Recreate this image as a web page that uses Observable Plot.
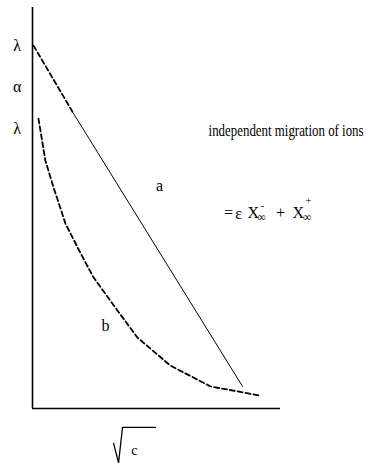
<!DOCTYPE html>
<html>
<head>
<meta charset="utf-8">
<script src="https://cdn.jsdelivr.net/npm/d3@7"></script>
<script src="https://cdn.jsdelivr.net/npm/@observablehq/plot@0.6"></script>
<style>
  html, body { margin: 0; padding: 0; background: #fff; }
  svg { display: block; }
</style>
</head>
<body>
<div id="chart"></div>
<script>
// Molar conductivity against √c: strong electrolyte (a) is linear,
// weak electrolyte (b) falls steeply near zero concentration.
const sqrtC_a = [0.04, 1.65, 8.47];
const lambda_a = [9.05, 7.36, 0.55];

const sqrtC_b = [0.24, 0.52, 0.85, 1.33, 1.94, 2.46, 3.43, 4.23, 5.56, 7.18, 9.19];
const lambda_b = [7.23, 6.18, 5.51, 4.61, 3.87, 3.27, 2.44, 1.77, 1.07, 0.55, 0.32];

const axisSymbols = ["λ", "α", "λ"];
const axisSymbolY = [9.05, 8.03, 6.98];

const noteText = "independent migration of ions";

const a = sqrtC_a.map((x, i) => ({x, y: lambda_a[i]}));
const aDashed = a.slice(0, 2);   // extrapolation to c → 0
const aSolid = a.slice(1);
const b = sqrtC_b.map((x, i) => ({x, y: lambda_b[i]}));
const symbols = axisSymbols.map((t, i) => ({t, y: axisSymbolY[i]}));

const font = "Liberation Serif, Times New Roman, serif";
const ink = "#000";
const label = (t, x, y, opts = {}) =>
  Plot.text([t], {x, y, text: d => d, fontSize: 16, fill: ink, ...opts});

const chart = Plot.plot({
  width: 366,
  height: 463,
  marginLeft: 32,
  marginRight: 86,
  marginTop: 7,
  marginBottom: 55,
  x: {domain: [0, 10], axis: null},
  y: {domain: [0, 10], axis: null},
  style: {fontFamily: font, background: "#fff", color: ink},
  marks: [
    Plot.ruleX([0], {stroke: ink, strokeWidth: 1.6}),
    Plot.ruleY([0], {stroke: ink, strokeWidth: 1.6, x1: 0, x2: 10}),
    Plot.line(aDashed, {x: "x", y: "y", stroke: ink, strokeWidth: 1.8, strokeDasharray: "5,3"}),
    Plot.line(aSolid, {x: "x", y: "y", stroke: ink, strokeWidth: 1}),
    Plot.line(b, {x: "x", y: "y", stroke: ink, strokeWidth: 1.8, strokeDasharray: "5,3"}),
    Plot.text(symbols, {x: -0.62, y: "y", text: "t", fontSize: 16, fill: ink}),
    label(noteText, 13.35, 6.93, {textAnchor: "end", className: "note"}),
    label("a", 5.12, 5.56),
    label("b", 2.94, 2.07),
    // = ɛ X∞⁻ + X∞⁺
    label("=", 7.9, 4.89),
    label("ɛ", 8.31, 4.86),
    label("X", 8.9, 4.89),
    label("∞", 9.24, 4.76, {fontSize: 12}),
    label("-", 9.27, 5.06, {fontSize: 10}),
    label("+", 10.0, 4.89),
    label("X", 10.72, 4.89),
    label("∞", 11.08, 4.76, {fontSize: 12}),
    label("+", 11.12, 5.18, {fontSize: 11}),
    // x-axis label √c
    Plot.line([{x: 3.27, y: -0.87}, {x: 3.47, y: -1.35}, {x: 3.63, y: -0.47}, {x: 4.96, y: -0.47}],
      {x: "x", y: "y", stroke: ink, strokeWidth: 1.3, clip: false}),
    label("c", 4.11, -1.05, {fontSize: 14})
  ]
});

// the note is set in a narrow face
d3.select(chart).selectAll(".note text")
  .attr("textLength", 155)
  .attr("lengthAdjust", "spacingAndGlyphs");

document.getElementById("chart").append(chart);
</script>
</body>
</html>
